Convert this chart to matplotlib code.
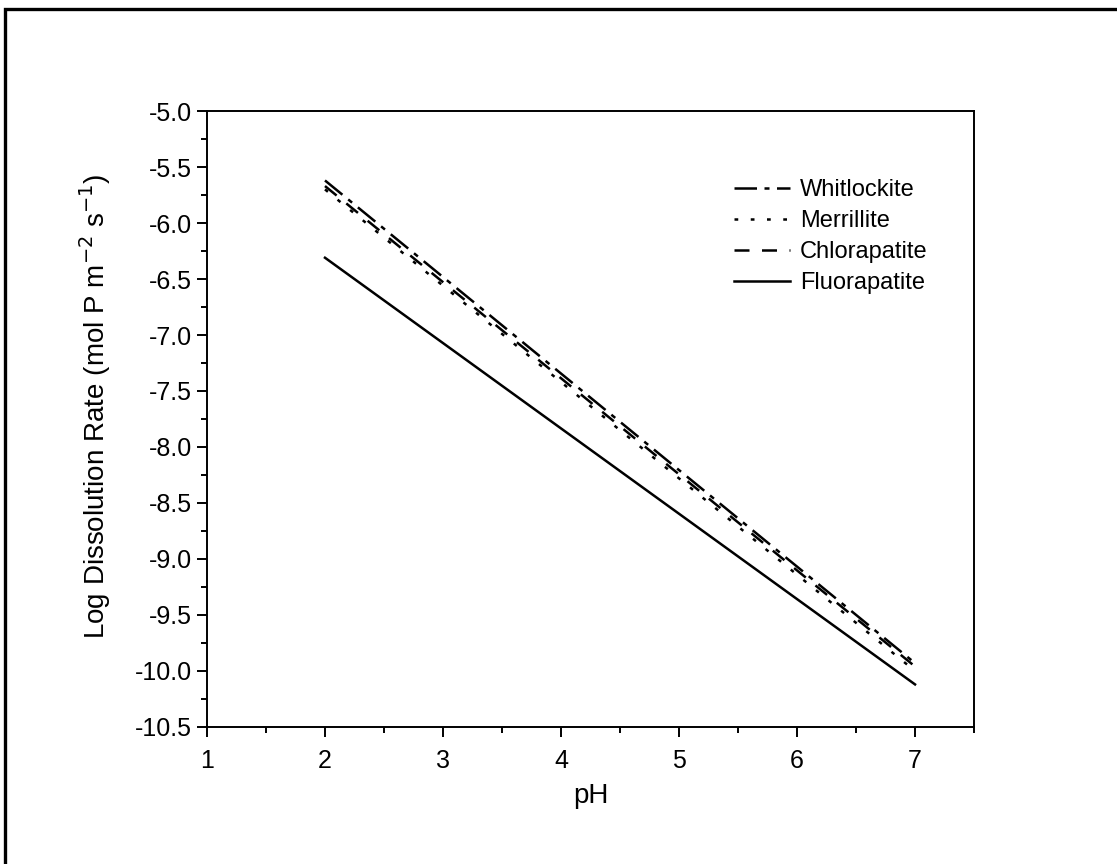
import numpy as np
import matplotlib
matplotlib.use("Agg")
import matplotlib.pyplot as plt
from matplotlib.patches import Rectangle
from matplotlib.ticker import MultipleLocator, FormatStrFormatter

plt.rcParams['font.family'] = ['Liberation Sans', 'DejaVu Sans']

# data: log dissolution rate vs pH (straight-line rate laws, endpoints)
ph = [2.0, 7.0]
whitlockite = [-5.62, -9.93]
merrillite = [-5.70, -10.00]
chlorapatite = [-5.67, -9.96]
fluorapatite = [-6.31, -10.12]

fig = plt.figure(figsize=(11.17, 8.64), dpi=100)
ax = fig.add_axes([0.1853, 0.1586, 0.6867, 0.7129])

ax.plot(ph, whitlockite, color='black', lw=1.8, dashes=(9, 3, 2, 3), label='Whitlockite')
ax.plot(ph, merrillite, color='black', lw=1.8, dashes=(1.5, 5), label='Merrillite')
ax.plot(ph, chlorapatite, color='black', lw=1.8, dashes=(6, 5), label='Chlorapatite')
ax.plot(ph, fluorapatite, color='black', lw=1.8, label='Fluorapatite')

ax.set_xlim(1, 7.5)
ax.set_ylim(-10.5, -5.0)
ax.xaxis.set_major_locator(MultipleLocator(1))
ax.xaxis.set_minor_locator(MultipleLocator(0.5))
ax.yaxis.set_major_locator(MultipleLocator(0.5))
ax.yaxis.set_minor_locator(MultipleLocator(0.25))
ax.yaxis.set_major_formatter(FormatStrFormatter('%.1f'))

ax.tick_params(which='both', direction='out', top=False, right=False, width=1.4, labelsize=18)
ax.tick_params(which='major', length=7, pad=4)
ax.tick_params(axis='x', which='major', pad=9)
ax.tick_params(which='minor', length=4)
for s in ax.spines.values():
    s.set_linewidth(1.4)

ax.set_xlabel('pH', fontsize=20, labelpad=7)
ax.set_ylabel(r'Log Dissolution Rate (mol P m$^{-2}$ s$^{-1}$)', fontsize=20)
ax.yaxis.set_label_coords(-0.123, 0.52)

leg = ax.legend(loc='upper right', bbox_to_anchor=(0.967, 0.9235), frameon=False, fontsize=17,
                handlelength=2.4, handletextpad=0.4, labelspacing=0.38)

# outer frame (cropped on right/bottom)
fig.patches.append(Rectangle((5 / 1117, -0.1), 1.2, 0.9896 + 0.1,
                             transform=fig.transFigure, fill=False, lw=2.4, ec='black'))

fig.savefig('out.png', dpi=100)
